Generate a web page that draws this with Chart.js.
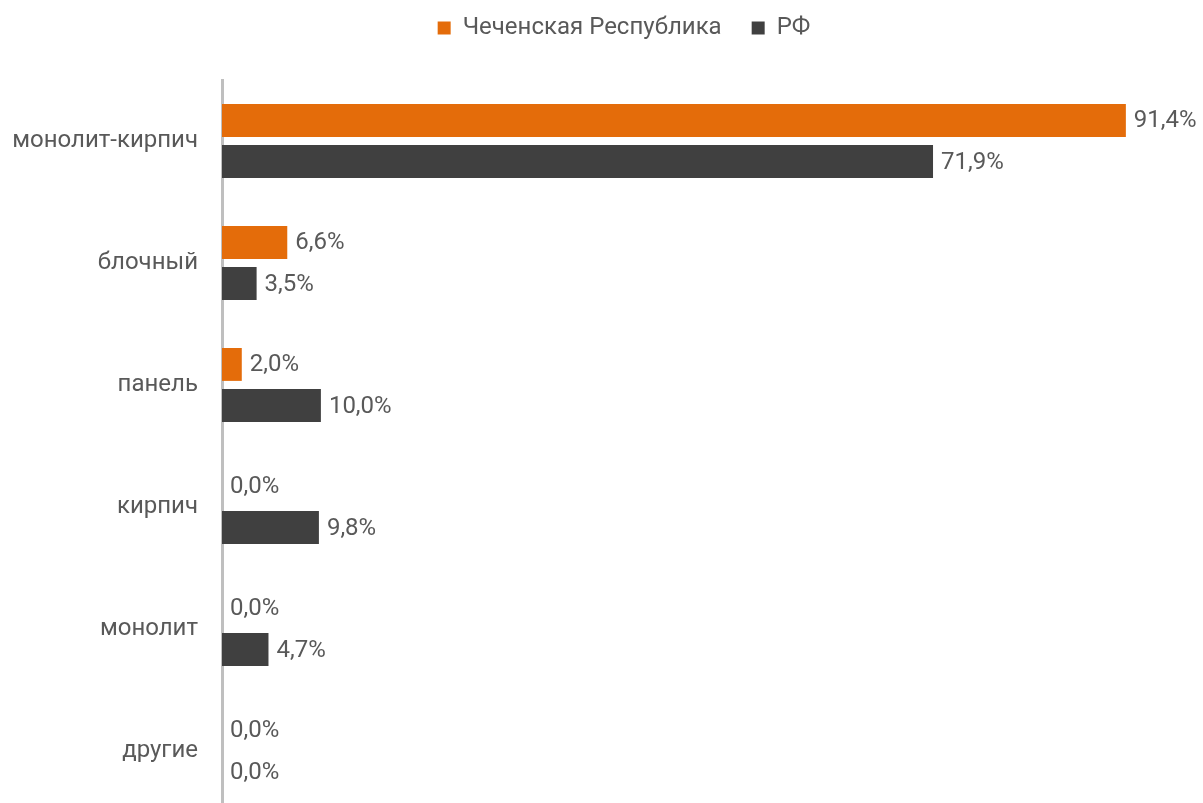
<!DOCTYPE html>
<html>
<head>
<meta charset="utf-8">
<script src="https://cdn.jsdelivr.net/npm/chart.js@4"></script>
<style>
  html, body { margin: 0; padding: 0; background: #ffffff; overflow: hidden; }
  #wrap { position: relative; width: 1203px; height: 812px; }
</style>
</head>
<body>
<div id="wrap"><canvas id="c"></canvas></div>
<script>
const categories = ['монолит-кирпич', 'блочный', 'панель', 'кирпич', 'монолит', 'другие'];
const seriesNames = ['Чеченская Республика', 'РФ'];
const chechnyaValues = [91.4, 6.6, 2.0, 0.0, 0.0, 0.0];
const rfValues = [71.9, 3.5, 10.0, 9.8, 4.7, 0.0];
const seriesColors = ['#E46C0A', '#404040'];
const axisMax = 99.2;

const fmt = v => v.toFixed(1).replace('.', ',') + '%';

const valueLabels = {
  id: 'valueLabels',
  afterDatasetsDraw(chart) {
    const ctx = chart.ctx;
    ctx.save();
    ctx.font = '24px Roboto';
    ctx.fillStyle = '#595959';
    ctx.textAlign = 'left';
    ctx.textBaseline = 'middle';
    chart.data.datasets.forEach((ds, di) => {
      const meta = chart.getDatasetMeta(di);
      meta.data.forEach((el, i) => {
        ctx.fillText(fmt(ds.data[i]), el.x + 8, el.y + 1);
      });
    });
    ctx.restore();
  }
};

const legendHeight = {
  id: 'legendHeight',
  beforeInit(chart) {
    const orig = chart.legend.fit;
    chart.legend.fit = function () {
      orig.call(this);
      this.height = 94;
    };
  },
  afterLayout(chart) {
    chart.legend.left = 45;
  }
};

new Chart(document.getElementById('c'), {
  type: 'bar',
  data: {
    labels: categories,
    datasets: [
      { label: seriesNames[0], data: chechnyaValues, backgroundColor: seriesColors[0],
        categoryPercentage: 0.674, barPercentage: 0.8 },
      { label: seriesNames[1], data: rfValues, backgroundColor: seriesColors[1],
        categoryPercentage: 0.674, barPercentage: 0.8 }
    ]
  },
  options: {
    indexAxis: 'y',
    responsive: true,
    maintainAspectRatio: false,
    animation: false,
    layout: { padding: { top: -14, left: 0, right: 0, bottom: 0 } },
    plugins: {
      legend: {
        position: 'top',
        labels: {
          boxWidth: 13, boxHeight: 13, padding: 30,
          color: '#595959',
          font: { family: 'Roboto', size: 24 }
        }
      },
      tooltip: { enabled: false }
    },
    scales: {
      x: {
        display: false,
        min: 0,
        max: axisMax
      },
      y: {
        grid: { display: false, drawTicks: false },
        border: { display: true, color: '#BFBFBF', width: 3 },
        ticks: {
          color: '#595959',
          font: { family: 'Roboto', size: 24 },
          padding: 24
        },
        afterFit(s) { s.width = 222; s.paddingTop = 0; s.paddingBottom = 0; }
      }
    }
  },
  plugins: [valueLabels, legendHeight]
});
</script>
</body>
</html>
